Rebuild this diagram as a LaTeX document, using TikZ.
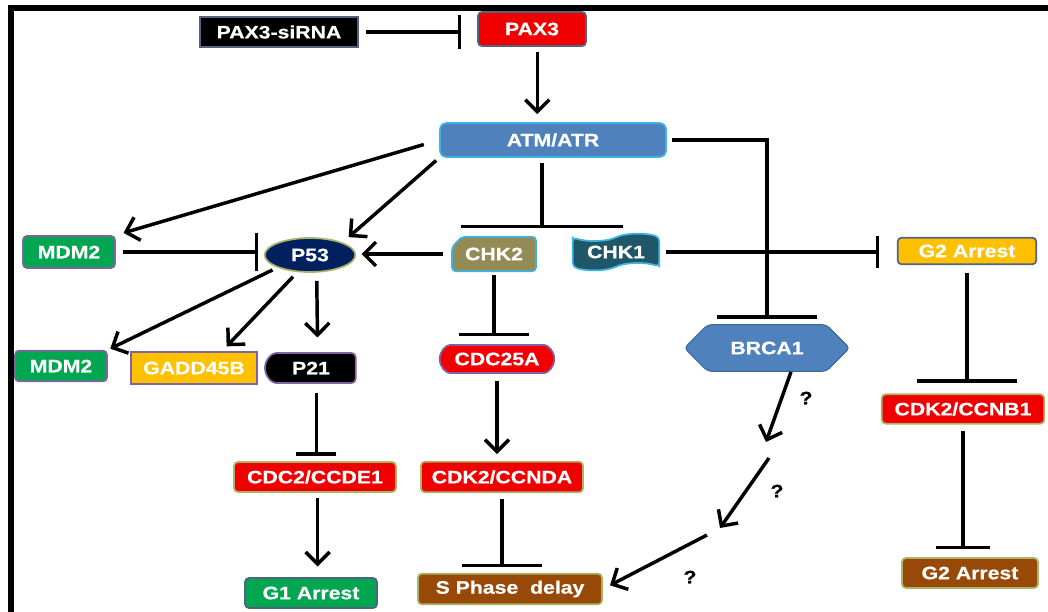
\documentclass[tikz,border=0pt]{standalone}
\usepackage{fontspec}
\newfontfamily\boxfont{Liberation Sans}[FakeStretch=1.18,FakeBold=0.6]
\usepackage{tikz}
\usetikzlibrary{arrows.meta,positioning,shapes.geometric,shapes.misc,shapes.symbols}
\usepackage{xcolor}
\definecolor{boxred}{RGB}{240,0,0}
\definecolor{steelblue}{RGB}{79,129,189}
\definecolor{skyedge}{RGB}{60,180,230}
\definecolor{leafgreen}{RGB}{0,166,80}
\definecolor{amber}{RGB}{255,192,0}
\definecolor{rust}{RGB}{152,72,7}
\definecolor{navyblue}{RGB}{0,32,96}
\definecolor{khaki}{RGB}{148,138,84}
\definecolor{deepteal}{RGB}{31,86,104}
\definecolor{oliveedge}{RGB}{170,180,100}
\definecolor{lilacedge}{RGB}{128,100,162}
\definecolor{slateedge}{RGB}{80,100,130}

\tikzset{
  gene/.style={rectangle, rounded corners=3pt, line width=1.3pt, inner sep=0pt,
    text=white, font=\boxfont\bfseries\fontsize{13.5}{15}\selectfont},
  act/.style={line width=2.6pt, -{Straight Barb[length=9pt,width=18pt]}},
  inh/.style={line width=2.6pt, -{Bar[width=#1]}},
  inh/.default=28pt,
  qmark/.style={font=\boxfont\bfseries\fontsize{13.5}{15}\selectfont}
}

\begin{document}
\begin{tikzpicture}[x=0.75pt,y=-0.75pt]
  \useasboundingbox (0,0) rectangle (1048,611);
  \fill[white] (0,0) rectangle (1048,611);
  % frame
  \draw[line width=4.5pt] (11,640) -- (11,8) -- (1070,8);

  % upstream
  \node[gene, rounded corners=0pt, fill=black, draw=slateedge,
    minimum width=118.5pt, minimum height=23pt] (sirna) at (279,32) {PAX3-siRNA};
  \node[gene, fill=boxred, draw=slateedge,
    minimum width=81pt, minimum height=25.5pt] (pax3) at (532,29) {PAX3};
  \node[gene, rounded corners=5pt, fill=steelblue, draw=skyedge,
    minimum width=169.5pt, minimum height=25.5pt] (atm) at (553,140) {ATM/ATR};

  % checkpoint kinases
  \node[gene, chamfered rectangle, chamfered rectangle corners=north west,
    chamfered rectangle xsep=6pt, fill=khaki, draw=skyedge,
    minimum width=63pt, minimum height=26pt] (chk2) at (494,254) {CHK2};
  \node[gene, tape, fill=deepteal, draw=skyedge,
    minimum width=65pt, minimum height=27pt] (chk1) at (616,252) {CHK1};
  \node[gene, signal, signal to=east and west, fill=steelblue, draw=steelblue!80!black,
    line width=0.8pt, minimum width=124pt, minimum height=35pt] (brca1) at (767,348) {BRCA1};

  % P53 axis
  \node[gene, fill=leafgreen, draw=lilacedge,
    minimum width=69pt, minimum height=24pt] (mdm2a) at (69,252) {MDM2};
  \node[gene, ellipse, fill=navyblue, draw=oliveedge,
    minimum width=68pt, minimum height=25.5pt] (p53) at (310,255) {P53};
  \node[gene, fill=leafgreen, draw=lilacedge,
    minimum width=69pt, minimum height=23pt] (mdm2b) at (61,366) {MDM2};
  \node[gene, rounded corners=0pt, fill=amber, draw=lilacedge,
    minimum width=94.5pt, minimum height=24pt] (gadd) at (194,368) {GADD45B};
  \node[gene, rounded rectangle, rounded rectangle right arc=none, fill=black,
    draw=lilacedge, minimum width=68pt, minimum height=22.5pt] (p21) at (311,368) {P21};
  \node[gene, fill=boxred, draw=oliveedge,
    minimum width=121.5pt, minimum height=22.5pt] (cdc2) at (315,477) {CDC2/CCDE1};
  \node[gene, fill=leafgreen, draw=slateedge,
    minimum width=99pt, minimum height=22.5pt] (g1) at (311,593) {G1 Arrest};

  % S phase branch
  \node[gene, rounded rectangle, fill=boxred, draw=lilacedge,
    minimum width=86pt, minimum height=21pt] (cdc25a) at (497,359) {CDC25A};
  \node[gene, fill=boxred, draw=oliveedge,
    minimum width=121.5pt, minimum height=23pt] (cdkd) at (502,477) {CDK2/CCNDA};
  \node[gene, fill=rust, draw=oliveedge,
    minimum width=138pt, minimum height=23pt] (sphase) at (510,589) {S Phase~ delay};

  % G2 branch
  \node[gene, fill=amber, draw=slateedge,
    minimum width=104pt, minimum height=20pt] (g2a) at (967,251) {G2 Arrest};
  \node[gene, fill=boxred, draw=oliveedge,
    minimum width=122pt, minimum height=22pt] (cdkb) at (963,409) {CDK2/CCNB1};
  \node[gene, fill=rust, draw=oliveedge,
    minimum width=102pt, minimum height=22.5pt] (g2b) at (970,573) {G2 Arrest};

  % PAX3 -> ATM/ATR
  \draw[inh=25pt, shorten <=5pt, shorten >=12pt] (sirna.east) -- (sirna.east -| pax3.west);
  \draw[act, shorten <=4pt, shorten >=6pt] ([xshift=4pt]pax3.south) -- ([xshift=4pt]pax3.south |- atm.north);

  % ATM/ATR targets
  \coordinate (fork) at (542,228);
  \draw[inh=121pt, shorten <=4pt] (atm.south -| fork) -- (fork);
  \draw[inh=75pt, shorten <=4pt, shorten >=4pt] (atm.east) -| (brca1.north);
  \draw[act, shorten <=12pt, shorten >=6pt] (atm.west) -- (mdm2a.north east);
  \draw[act, shorten <=3pt, shorten >=6pt] (atm.south west) -- (p53.north east);

  % around P53
  \draw[inh=28pt, shorten <=5pt, shorten >=4pt] (mdm2a.east) -- (mdm2a.east -| p53.west);
  \draw[act, shorten <=6pt, shorten >=4pt] (chk2.west) -- (chk2.west -| p53.east);
  \draw[act, shorten <=4pt, shorten >=2pt] (p53.south west) -- (mdm2b.north east);
  \draw[act, shorten <=4pt, shorten >=5pt] ([xshift=-10pt]p53.south) -- ([xshift=21pt]gadd.north);
  \draw[act, shorten <=6pt, shorten >=11pt] ([xshift=5pt]p53.south) -- ([xshift=5pt]p21.north);
  \draw[inh=30pt, shorten <=7pt, shorten >=4pt] ([xshift=4pt]p21.south) -- ([xshift=4pt]p21.south |- cdc2.north);
  \draw[act, shorten <=4pt, shorten >=8pt] ([xshift=2pt]cdc2.south) -- ([xshift=2pt]cdc2.south |- g1.north);

  % CHK2 -> S phase
  \draw[inh=52pt, shorten <=2pt, shorten >=6pt] (chk2.south) -- (chk2.south |- cdc25a.north);
  \draw[act, shorten <=5pt, shorten >=5pt] (cdc25a.south) -- (cdc25a.south |- cdkd.north);
  \draw[inh=60pt, shorten <=4pt, shorten >=4pt] (cdkd.south) -- (cdkd.south |- sphase.north);

  % CHK1 -> G2
  \draw[inh=24pt, shorten <=4pt, shorten >=13pt] (chk1.east) -- (chk1.east -| g2a.west);
  \draw[inh=75pt, shorten <=6pt, shorten >=8pt] (g2a.south) -- (g2a.south |- cdkb.north);
  \draw[inh=40pt, shorten <=5pt, shorten >=6pt] (cdkb.south) -- (cdkb.south |- g2b.north);

  % BRCA1 -> S phase (unclear)
  \coordinate (q1) at (766,442);
  \coordinate (q2) at (769,458);
  \coordinate (q3) at (720,528);
  \coordinate (q4) at (707,535);
  \draw[act] ([xshift=18pt]brca1.south) -- (q1);
  \draw[act] (q2) -- (q3);
  \draw[act, shorten >=6pt] (q4) -- (sphase.east);
  \node[qmark] (qa) at (806,398) {?};
  \node[qmark] (qb) at (777,491) {?};
  \node[qmark] (qc) at (690,577) {?};
\end{tikzpicture}
\end{document}
